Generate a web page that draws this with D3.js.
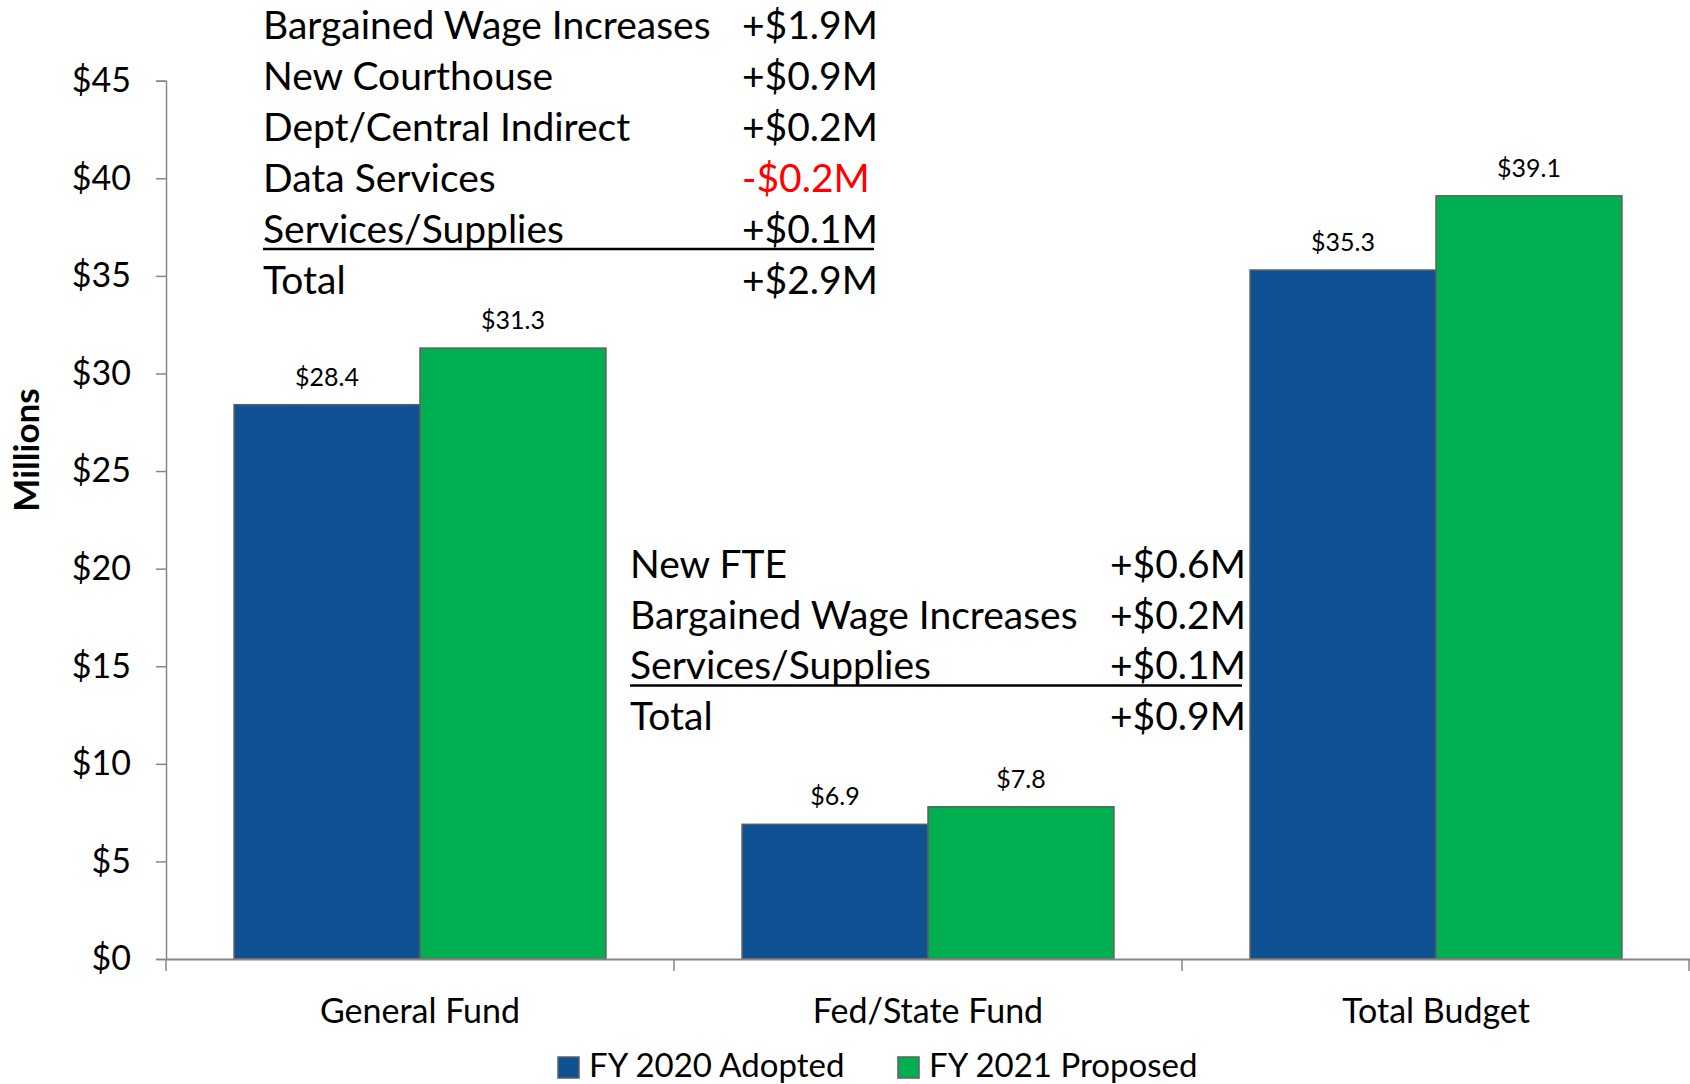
<!DOCTYPE html>
<html>
<head>
<meta charset="utf-8">
<script src="https://cdn.jsdelivr.net/npm/d3@7"></script>
<style>
	body { margin: 0; background: #fff; }
	text { font-family: Lato, 'Open Sans', sans-serif; fill: #000; }
</style>
</head>
<body>
<div id="chart"></div>
<script>
var categories = ['General Fund', 'Fed/State Fund', 'Total Budget'];
var seriesNames = ['FY 2020 Adopted', 'FY 2021 Proposed'];
var adopted2020 = [28.4, 6.9, 35.3];
var proposed2021 = [31.3, 7.8, 39.1];
var yTicks = [0, 5, 10, 15, 20, 25, 30, 35, 40, 45];

var gfItems = ['Bargained Wage Increases', 'New Courthouse', 'Dept/Central Indirect', 'Data Services', 'Services/Supplies', 'Total'];
var gfAmounts = ['+$1.9M', '+$0.9M', '+$0.2M', '-$0.2M', '+$0.1M', '+$2.9M'];
var fsItems = ['New FTE', 'Bargained Wage Increases', 'Services/Supplies', 'Total'];
var fsAmounts = ['+$0.6M', '+$0.2M', '+$0.1M', '+$0.9M'];

drawChart();

function drawChart(){
	var width = 1690;
	var height = 1084;
	var margin = {left: 166, right: 0, top: 80.7, bottom: 125};
	var colors = ['#0f5294', '#00b050'];

	var data = categories.map(function(c, i){
		return {category: c, values: [adopted2020[i], proposed2021[i]]};
	});

	var svg = d3.select('#chart')
		.append('svg')
		.attr('width', width)
		.attr('height', height);

	var x = d3.scaleBand()
		.domain(categories)
		.range([margin.left, width - margin.right])
		.padding(0);

	var xInner = d3.scaleBand()
		.domain(seriesNames)
		.range([0, x.bandwidth()])
		.paddingInner(0)
		.paddingOuter(0.366);

	var y = d3.scaleLinear()
		.domain([0, 45])
		.range([height - margin.bottom, margin.top]);

	// y axis
	var yAxis = svg.append('g')
		.attr('transform', 'translate(' + margin.left + ',0)')
		.call(d3.axisLeft(y)
			.tickValues(yTicks)
			.tickSize(10)
			.tickPadding(25)
			.tickFormat(function(d){ return '$' + d; }));
	yAxis.select('.domain').attr('stroke', '#868686').attr('stroke-width', 1.5);
	yAxis.selectAll('.tick line').attr('stroke', '#868686').attr('stroke-width', 1.5);
	yAxis.selectAll('.tick text')
		.style('font-size', '34px')
		.attr('fill', '#000');

	// bars
	var groups = svg.selectAll('.group')
		.data(data)
		.enter()
		.append('g')
		.attr('class', 'group')
		.attr('transform', function(d){
			return 'translate(' + x(d.category) + ',0)';
		});

	groups.selectAll('rect')
		.data(function(d){
			return d.values.map(function(v, i){ return {series: seriesNames[i], value: v, i: i}; });
		})
		.enter()
		.append('rect')
		.attr('x', function(d){ return xInner(d.series); })
		.attr('y', function(d){ return y(d.value); })
		.attr('width', xInner.bandwidth())
		.attr('height', function(d){ return y(0) - y(d.value); })
		.attr('fill', function(d){ return colors[d.i]; })
		.attr('stroke', '#5f5f5f')
		.attr('stroke-width', 1.5);

	groups.selectAll('.label')
		.data(function(d){
			return d.values.map(function(v, i){ return {series: seriesNames[i], value: v}; });
		})
		.enter()
		.append('text')
		.attr('class', 'label')
		.attr('x', function(d){ return xInner(d.series) + xInner.bandwidth() / 2; })
		.attr('y', function(d){ return y(d.value) - 19; })
		.attr('text-anchor', 'middle')
		.style('font-size', '25px')
		.text(function(d){ return '$' + d.value.toFixed(1); });

	// x axis
	var xAxis = svg.append('g')
		.attr('transform', 'translate(0,' + y(0) + ')')
		.call(d3.axisBottom(x).tickSize(0).tickPadding(40));
	xAxis.select('.domain').attr('stroke', '#868686').attr('stroke-width', 2);
	xAxis.selectAll('.tick text')
		.style('font-size', '34px')
		.attr('fill', '#000');

	var boundaries = categories.map(function(c){ return x(c); });
	boundaries.push(x(categories[categories.length - 1]) + x.bandwidth() - 1);
	xAxis.selectAll('.sep')
		.data(boundaries)
		.enter()
		.append('line')
		.attr('x1', function(d){ return d; })
		.attr('x2', function(d){ return d; })
		.attr('y1', 0)
		.attr('y2', 12)
		.attr('stroke', '#868686')
		.attr('stroke-width', 1.5);

	// y label
	svg.append('text')
		.attr('transform', 'translate(39,450) rotate(-90)')
		.attr('text-anchor', 'middle')
		.style('font-size', '35px')
		.style('font-weight', 'bold')
		.text('Millions');

	// annotation tables
	drawTable(gfItems, gfAmounts, 263, 742, 39, 51, 874);
	drawTable(fsItems, fsAmounts, 630, 1110, 578, 50.7, 1242);

	function drawTable(items, amounts, xLeft, xAmount, yTop, lineHeight, xRight){
		var t = svg.append('g');
		items.forEach(function(item, i){
			t.append('text')
				.attr('x', xLeft)
				.attr('y', yTop + i * lineHeight)
				.style('font-size', '39px')
				.text(item);
			t.append('text')
				.attr('x', xAmount)
				.attr('y', yTop + i * lineHeight)
				.style('font-size', '39px')
				.style('fill', amounts[i].charAt(0) === '-' ? '#ff0000' : '#000')
				.text(amounts[i]);
		});
		var uy = yTop + (items.length - 2) * lineHeight + 6;
		t.append('line')
			.attr('x1', xLeft)
			.attr('x2', xRight)
			.attr('y1', uy)
			.attr('y2', uy)
			.attr('stroke', '#000')
			.attr('stroke-width', 2.5);
	}

	// legend
	var legend = svg.selectAll('.legend')
		.data(seriesNames)
		.enter()
		.append('g')
		.attr('class', 'legend')
		.attr('transform', function(d, i){
			return 'translate(' + (558 + i * 340) + ',1057)';
		});

	legend.append('rect')
		.attr('width', 21)
		.attr('height', 21)
		.attr('fill', function(d, i){ return colors[i]; })
		.attr('stroke', '#5f5f5f')
		.attr('stroke-width', 1.5);

	legend.append('text')
		.attr('x', 31)
		.attr('y', 20)
		.style('font-size', '33px')
		.text(function(d){ return d; });
}
</script>
</body>
</html>
